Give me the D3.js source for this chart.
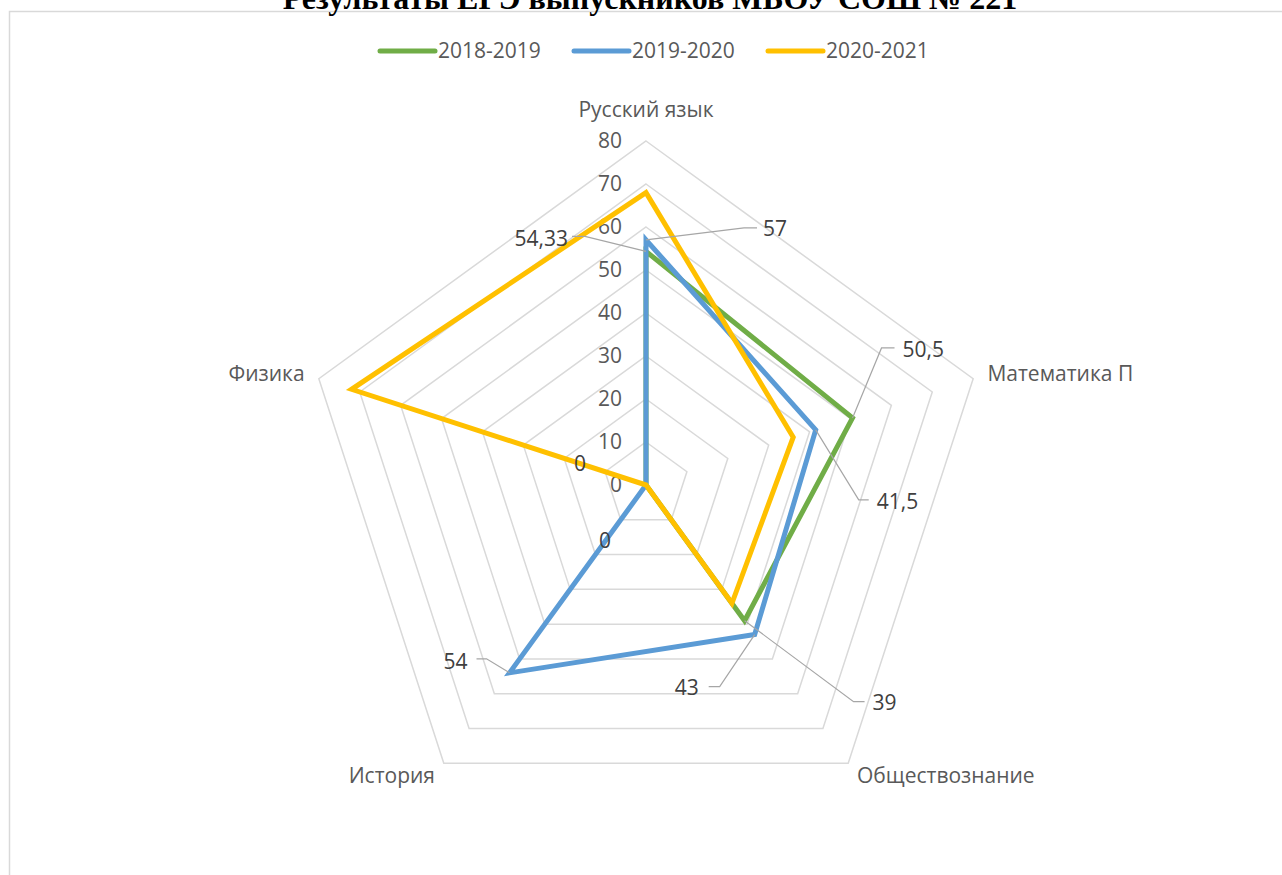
<!DOCTYPE html>
<html>
<head>
<meta charset="utf-8">
<script src="https://cdn.jsdelivr.net/npm/d3@7"></script>
<style>
  body { margin: 0; background: #fff; }
  text { font-family: "Open Sans", "Noto Sans", sans-serif; }
</style>
</head>
<body>
<svg id="chart" width="1282" height="875"></svg>
<script>
// chart data
const categories = ["Русский язык", "Математика П", "Обществознание", "История", "Физика"];
const seriesNames = ["2018-2019", "2019-2020", "2020-2021"];
const values2018 = [54.33, 50.5, 39, 0, 0];
const values2019 = [57, 41.5, 43, 54, 0];
const values2020 = [68, 36, 34, 0, 72];
const radialTicks = [0, 10, 20, 30, 40, 50, 60, 70, 80];
const titleText = "Результаты ЕГЭ выпускников МБОУ СОШ № 221";

// which points carry a data label (series index, category index, text)
const pointLabels = [
  { s: 0, c: 0, text: "54,33" },
  { s: 1, c: 0, text: "57" },
  { s: 0, c: 1, text: "50,5" },
  { s: 1, c: 1, text: "41,5" },
  { s: 1, c: 2, text: "43" },
  { s: 0, c: 2, text: "39" },
  { s: 1, c: 3, text: "54" },
  { s: 0, c: 3, text: "0" },
  { s: 1, c: 4, text: "0" }
];
// placement of those labels relative to the point: text offset, anchor, leader elbow and end
const labelPlacement = [
  { tx: -78, ty: -13, anchor: "end", leader: [[-61, -15], [-74, -15]] },
  { tx: 117, ty: -11, anchor: "start", leader: [[98, -12], [111, -12]] },
  { tx: 50, ty: -68, anchor: "start", leader: [[29, -70], [42, -70]] },
  { tx: 61, ty: 72, anchor: "start", leader: [[43, 70], [53, 70]] },
  { tx: -56, ty: 53, anchor: "end", leader: [[-35, 52], [-46, 52]] },
  { tx: 128, ty: 82, anchor: "start", leader: [[109, 81], [120, 81]] },
  { tx: -42, ty: -11, anchor: "end", leader: [[-23, -14], [-33, -14]] },
  { tx: -41, ty: 56, anchor: "middle", leader: null },
  { tx: -66, ty: -21, anchor: "middle", leader: null }
];

const colors = ["#70AD47", "#5B9BD5", "#FFC000"];
const allSeries = [values2018, values2019, values2020];

const svg = d3.select("#chart");
const cx = 646, cy = 485, R = 344;
const fontSize = "21px";

// chart area frame
svg.append("rect")
  .attr("x", 9.5).attr("y", 11.5)
  .attr("width", 1400).attr("height", 1000)
  .attr("fill", "#fff")
  .attr("stroke", "#d9d9d9")
  .attr("stroke-width", 1.5);

// title (cut off by the top edge)
svg.append("text")
  .attr("x", 650).attr("y", 9)
  .attr("text-anchor", "middle")
  .style("font-family", "'Liberation Serif', 'DejaVu Serif', serif")
  .style("font-weight", "bold")
  .style("font-size", "32px")
  .attr("fill", "#000")
  .text(titleText);

// scales
let r = d3.scaleLinear().domain([0, 80]).range([0, R]);
let angle = d3.scaleBand().domain(categories).range([0, 2 * Math.PI]);

function point(cat, v) {
  let a = angle(cat);
  return [cx + r(v) * Math.sin(a), cy - r(v) * Math.cos(a)];
}

const g = svg.append("g");

// grid pentagons
radialTicks.filter(t => t > 0).forEach(t => {
  g.append("path")
    .attr("d", d3.line()(categories.map(c => point(c, t))) + "Z")
    .attr("fill", "none")
    .attr("stroke", "#d9d9d9")
    .attr("stroke-width", 1.5);
});

// radial tick labels
g.selectAll(".tick")
  .data(radialTicks).enter().append("text")
  .attr("x", cx - 24)
  .attr("y", d => cy - r(d))
  .attr("dy", "0.35em")
  .attr("text-anchor", "end")
  .attr("fill", "#595959")
  .style("font-size", fontSize)
  .text(d => d);

// category labels
categories.forEach(c => {
  let a = angle(c);
  let sx = Math.sin(a), sy = -Math.cos(a);
  let [px, py] = point(c, 80);
  let x = px + sx * 15, y = py + sy * 15;
  if (Math.abs(sx) < 0.01) y -= 16;
  g.append("text")
    .attr("x", x).attr("y", y)
    .attr("dy", "0.35em")
    .attr("text-anchor", Math.abs(sx) < 0.01 ? "middle" : (sx > 0 ? "start" : "end"))
    .attr("fill", "#595959")
    .style("font-size", fontSize)
    .text(c);
});

// series lines
let radar = d3.lineRadial()
  .angle(d => angle(d.cat))
  .radius(d => r(d.v))
  .curve(d3.curveLinearClosed);

allSeries.forEach((vals, i) => {
  g.append("path")
    .datum(categories.map((c, k) => ({ cat: c, v: vals[k] })))
    .attr("transform", `translate(${cx},${cy})`)
    .attr("d", radar)
    .attr("fill", "none")
    .attr("stroke", colors[i])
    .attr("stroke-width", 5)
    .attr("stroke-linejoin", "miter");
});

// data labels with leader lines
pointLabels.forEach((lab, i) => {
  let pl = labelPlacement[i];
  let [px, py] = point(categories[lab.c], allSeries[lab.s][lab.c]);
  if (pl.leader) {
    let pts = [[px, py]].concat(pl.leader.map(p => [px + p[0], py + p[1]]));
    g.append("path")
      .attr("d", d3.line()(pts))
      .attr("fill", "none")
      .attr("stroke", "#a6a6a6")
      .attr("stroke-width", 1.2);
  }
  g.append("text")
    .attr("x", px + pl.tx).attr("y", py + pl.ty)
    .attr("dy", "0.35em")
    .attr("text-anchor", pl.anchor)
    .attr("fill", "#404040")
    .style("font-size", fontSize)
    .text(lab.text);
});

// legend
let legend = svg.append("g");
let lx = [380, 574, 768];
seriesNames.forEach((name, i) => {
  legend.append("line")
    .attr("x1", lx[i]).attr("x2", lx[i] + 55)
    .attr("y1", 51).attr("y2", 51)
    .attr("stroke", colors[i])
    .attr("stroke-width", 5)
    .attr("stroke-linecap", "round");
  legend.append("text")
    .attr("x", lx[i] + 58).attr("y", 51)
    .attr("dy", "0.35em")
    .attr("fill", "#595959")
    .style("font-size", fontSize)
    .text(name);
});
</script>
</body>
</html>
